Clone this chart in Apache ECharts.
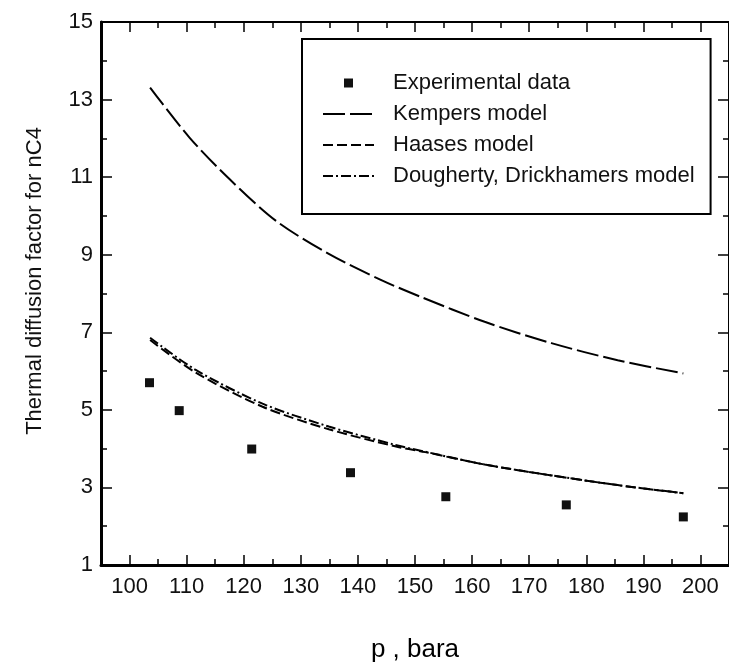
<!DOCTYPE html>
<html>
<head>
<meta charset="utf-8">
<script src="https://cdn.jsdelivr.net/npm/echarts@6/dist/echarts.min.js"></script>
<style>html,body{margin:0;padding:0;background:#fff}#c{width:729px;height:668px}</style>
</head>
<body>
<div id="c"></div>
<script>
// ---- data ----
const xMajorTicks = [100,110,120,130,140,150,160,170,180,190,200];
const xMinorTicks = [105,115,125,135,145,155,165,175,185,195];
const yMajorTicks = [1,3,5,7,9,11,13,15];
const yMinorTicks = [2,4,6,8,10,12,14];

const expP     = [103.5, 108.7, 121.4, 138.7, 155.4, 176.5, 197.0];
const expAlpha = [5.70, 4.98, 3.99, 3.38, 2.76, 2.55, 2.24];

const kempersP     = [103.6, 110.5, 117.5, 125.6, 134.9, 144.2, 150.9, 162.2, 173.9, 185.5, 197.0];
const kempersAlpha = [13.31, 12.02, 10.95, 9.88, 9.02, 8.34, 7.92, 7.27, 6.72, 6.28, 5.94];

const haasesP     = [103.6, 111.6, 123.3, 134.9, 146.5, 151.8, 162.2, 173.9, 185.5, 197.0];
const haasesAlpha = [6.80, 5.96, 5.08, 4.50, 4.06, 3.91, 3.59, 3.31, 3.06, 2.85];

const doughertyP     = [103.6, 111.6, 123.3, 134.9, 146.5, 151.8, 162.2, 173.9, 185.5, 197.0];
const doughertyAlpha = [6.86, 6.03, 5.16, 4.57, 4.10, 3.92, 3.59, 3.31, 3.06, 2.85];

const seriesNames = ['Experimental data', 'Kempers model', 'Haases model', 'Dougherty, Drickhamers model'];
const yTitle = 'Thermal diffusion factor for nC4';
const xTitle = 'p , bara';

const pairs = (xs, ys) => xs.map((x, i) => [x, ys[i]]);

const FONT = 'Liberation Sans, Arial, Helvetica, sans-serif';
const BLACK = '#000';

function xAx(pos, ticks, len, lineW, showLabel, extra) {
  return Object.assign({
    type: 'value', position: pos, min: 95, max: 205,
    axisLine: { show: lineW > 0, onZero: false, lineStyle: { color: BLACK, width: lineW } },
    axisTick: { show: true, inside: true, length: len, customValues: ticks, lineStyle: { color: BLACK, width: 1.5 } },
    axisLabel: { show: showLabel, customValues: ticks, margin: 11, fontSize: 22, fontFamily: FONT, color: '#111' },
    splitLine: { show: false }
  }, extra || {});
}
function yAx(pos, ticks, len, lineW, showLabel) {
  return {
    type: 'value', position: pos, min: 1, max: 15,
    axisLine: { show: lineW > 0, onZero: false, lineStyle: { color: BLACK, width: lineW } },
    axisTick: { show: true, inside: true, length: len, customValues: ticks, lineStyle: { color: BLACK, width: 1.5 } },
    axisLabel: { show: showLabel, customValues: ticks, margin: 8, fontSize: 22, fontFamily: FONT, color: '#111' },
    splitLine: { show: false }
  };
}

const hideSym = { opacity: 0 };

const chart = echarts.init(document.getElementById('c'), null, { renderer: 'canvas' });
chart.setOption({
  animation: false,
  backgroundColor: '#fff',
  grid: { left: 101, top: 22, width: 630, height: 551, containLabel: false },
  xAxis: [
    xAx('bottom', xMajorTicks, 10, 3, true, {
      name: xTitle, nameLocation: 'middle', nameGap: 72,
      nameTextStyle: { fontSize: 26, fontFamily: FONT, color: BLACK }
    }),
    xAx('bottom', xMinorTicks, 6, 0, false),
    xAx('top', xMajorTicks, 10, 2, false),
    xAx('top', xMinorTicks, 6, 0, false)
  ],
  yAxis: [
    yAx('left', yMajorTicks, 11, 3, true),
    yAx('left', yMinorTicks, 6, 0, false),
    yAx('right', yMajorTicks, 11, 2, false),
    yAx('right', yMinorTicks, 6, 0, false)
  ],
  legend: {
    orient: 'vertical', left: 302, top: 39,
    padding: [33, 16, 27, 20], itemGap: 9, itemWidth: 51, itemHeight: 9,
    borderColor: BLACK, borderWidth: 2, backgroundColor: '#fff',
    selectedMode: false,
    textStyle: { fontSize: 22, fontFamily: FONT, color: '#111', padding: [0, 0, 0, 14] },
    data: [
      { name: seriesNames[0], icon: 'path://M0,0M51,9M21,0h9v9h-9z', itemStyle: { color: '#111', opacity: 1 } },
      { name: seriesNames[1], itemStyle: hideSym },
      { name: seriesNames[2], itemStyle: hideSym },
      { name: seriesNames[3], itemStyle: hideSym }
    ]
  },
  graphic: [{
    type: 'text', x: 35, y: 281, rotation: Math.PI / 2,
    style: { text: yTitle, font: '22px ' + FONT, fill: '#111', align: 'center', verticalAlign: 'middle' }
  }],
  series: [
    {
      name: seriesNames[0], type: 'scatter', symbol: 'rect', symbolSize: 9, symbolKeepAspect: true,
      itemStyle: { color: '#111', opacity: 1 }, data: pairs(expP, expAlpha), z: 5
    },
    {
      name: seriesNames[1], type: 'line', smooth: 0.3, symbol: 'none',
      itemStyle: { color: BLACK },
      lineStyle: { color: BLACK, width: 2, type: [22, 5] }, data: pairs(kempersP, kempersAlpha)
    },
    {
      name: seriesNames[2], type: 'line', smooth: 0.3, symbol: 'none',
      itemStyle: { color: BLACK },
      lineStyle: { color: BLACK, width: 2, type: [10, 4] }, data: pairs(haasesP, haasesAlpha)
    },
    {
      name: seriesNames[3], type: 'line', smooth: 0.3, symbol: 'none',
      itemStyle: { color: BLACK },
      lineStyle: { color: BLACK, width: 2, type: [10, 3, 2, 3] }, data: pairs(doughertyP, doughertyAlpha)
    }
  ]
});
</script>
</body>
</html>
